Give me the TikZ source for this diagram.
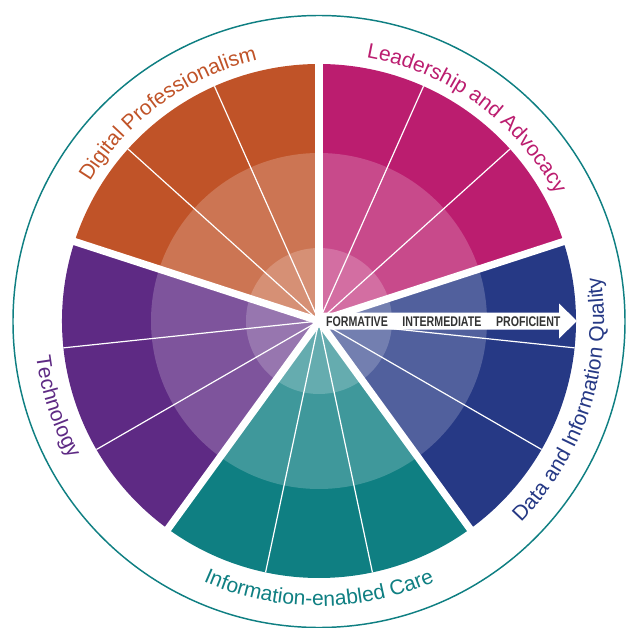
\documentclass[tikz,border=0pt]{standalone}
\usepackage{fontspec}
\setmainfont{Liberation Sans}
\newfontfamily\arrowfont[FakeStretch=0.76]{Liberation Sans}
\usetikzlibrary{decorations.text,positioning}
\definecolor{digital}{RGB}{192,83,40}
\definecolor{leader}{RGB}{187,29,111}
\definecolor{dataq}{RGB}{38,57,133}
\definecolor{care}{RGB}{15,127,130}
\definecolor{techno}{RGB}{94,42,132}
\definecolor{arrowtext}{RGB}{51,51,51}
\newcommand{\labelfont}{\fontsize{15.75pt}{18pt}\selectfont}
\tikzset{
  spoke/.style={white, line width=0.9pt},
  gap/.style={white, line width=5.5pt},
  ring/.style={fill=white, fill opacity=0.2},
  curvedlabel/.style 2 args={decorate, decoration={text along path, text align=center, text color=#1, text={|\labelfont|#2}}},
  steplabel/.style={font=\arrowfont\bfseries\fontsize{10.5pt}{12pt}\selectfont, text=arrowtext, inner sep=0pt}
}

\begin{document}
\begin{tikzpicture}[x=0.75pt, y=0.75pt]
    \useasboundingbox (-319,-307) rectangle (308,321);
    \fill[leader] (0,0) -- (90:257) arc[start angle=90, end angle=18, radius=257] -- cycle;
    \fill[dataq] (0,0) -- (18:257) arc[start angle=18, end angle=-54, radius=257] -- cycle;
    \fill[care] (0,0) -- (-54:257) arc[start angle=-54, end angle=-126, radius=257] -- cycle;
    \fill[techno] (0,0) -- (-126:257) arc[start angle=-126, end angle=-198, radius=257] -- cycle;
    \fill[digital] (0,0) -- (162:257) arc[start angle=162, end angle=90, radius=257] -- cycle;
    \fill[ring] (0,0) circle[radius=168];
    \fill[ring] (0,0) circle[radius=73];
    \foreach \a in {66,42,-6,-30,-78,-102,-150,-174,138,114}
        \draw[spoke] (0,0) -- (\a:257);
    \foreach \a in {90,18,-54,-126,162}
        \draw[gap] (0,0) -- (\a:262);
    \draw[care, line width=1.1pt] (0,-0.5) circle[radius=306];
    \fill[white] (3,8.5) -- (240,8.5) -- (240,17.5) -- (258,0) -- (240,-17.5) -- (240,-8.5) -- (3,-8.5) -- cycle;
    \node[steplabel] (formative) at (38,-1) {FORMATIVE};
    \node[steplabel, right=10.5pt of formative] (intermediate) {INTERMEDIATE};
    \node[steplabel, right=10.5pt of intermediate] (proficient) {PROFICIENT};
    \path[curvedlabel={digital}{Digital Professionalism}] (162:268) arc[start angle=162, end angle=90, radius=268];
    \path[curvedlabel={leader}{Leadership and Advocacy}] (90:268) arc[start angle=90, end angle=18, radius=268];
    \path[curvedlabel={dataq}{Data and Information Quality}] (-54:285) arc[start angle=-54, end angle=18, radius=285];
    \path[curvedlabel={care}{Information-enabled Care}] (-126:285) arc[start angle=-126, end angle=-54, radius=285];
    \path[curvedlabel={techno}{Technology}] (162:285) arc[start angle=162, end angle=234, radius=285];
\end{tikzpicture}
\end{document}
